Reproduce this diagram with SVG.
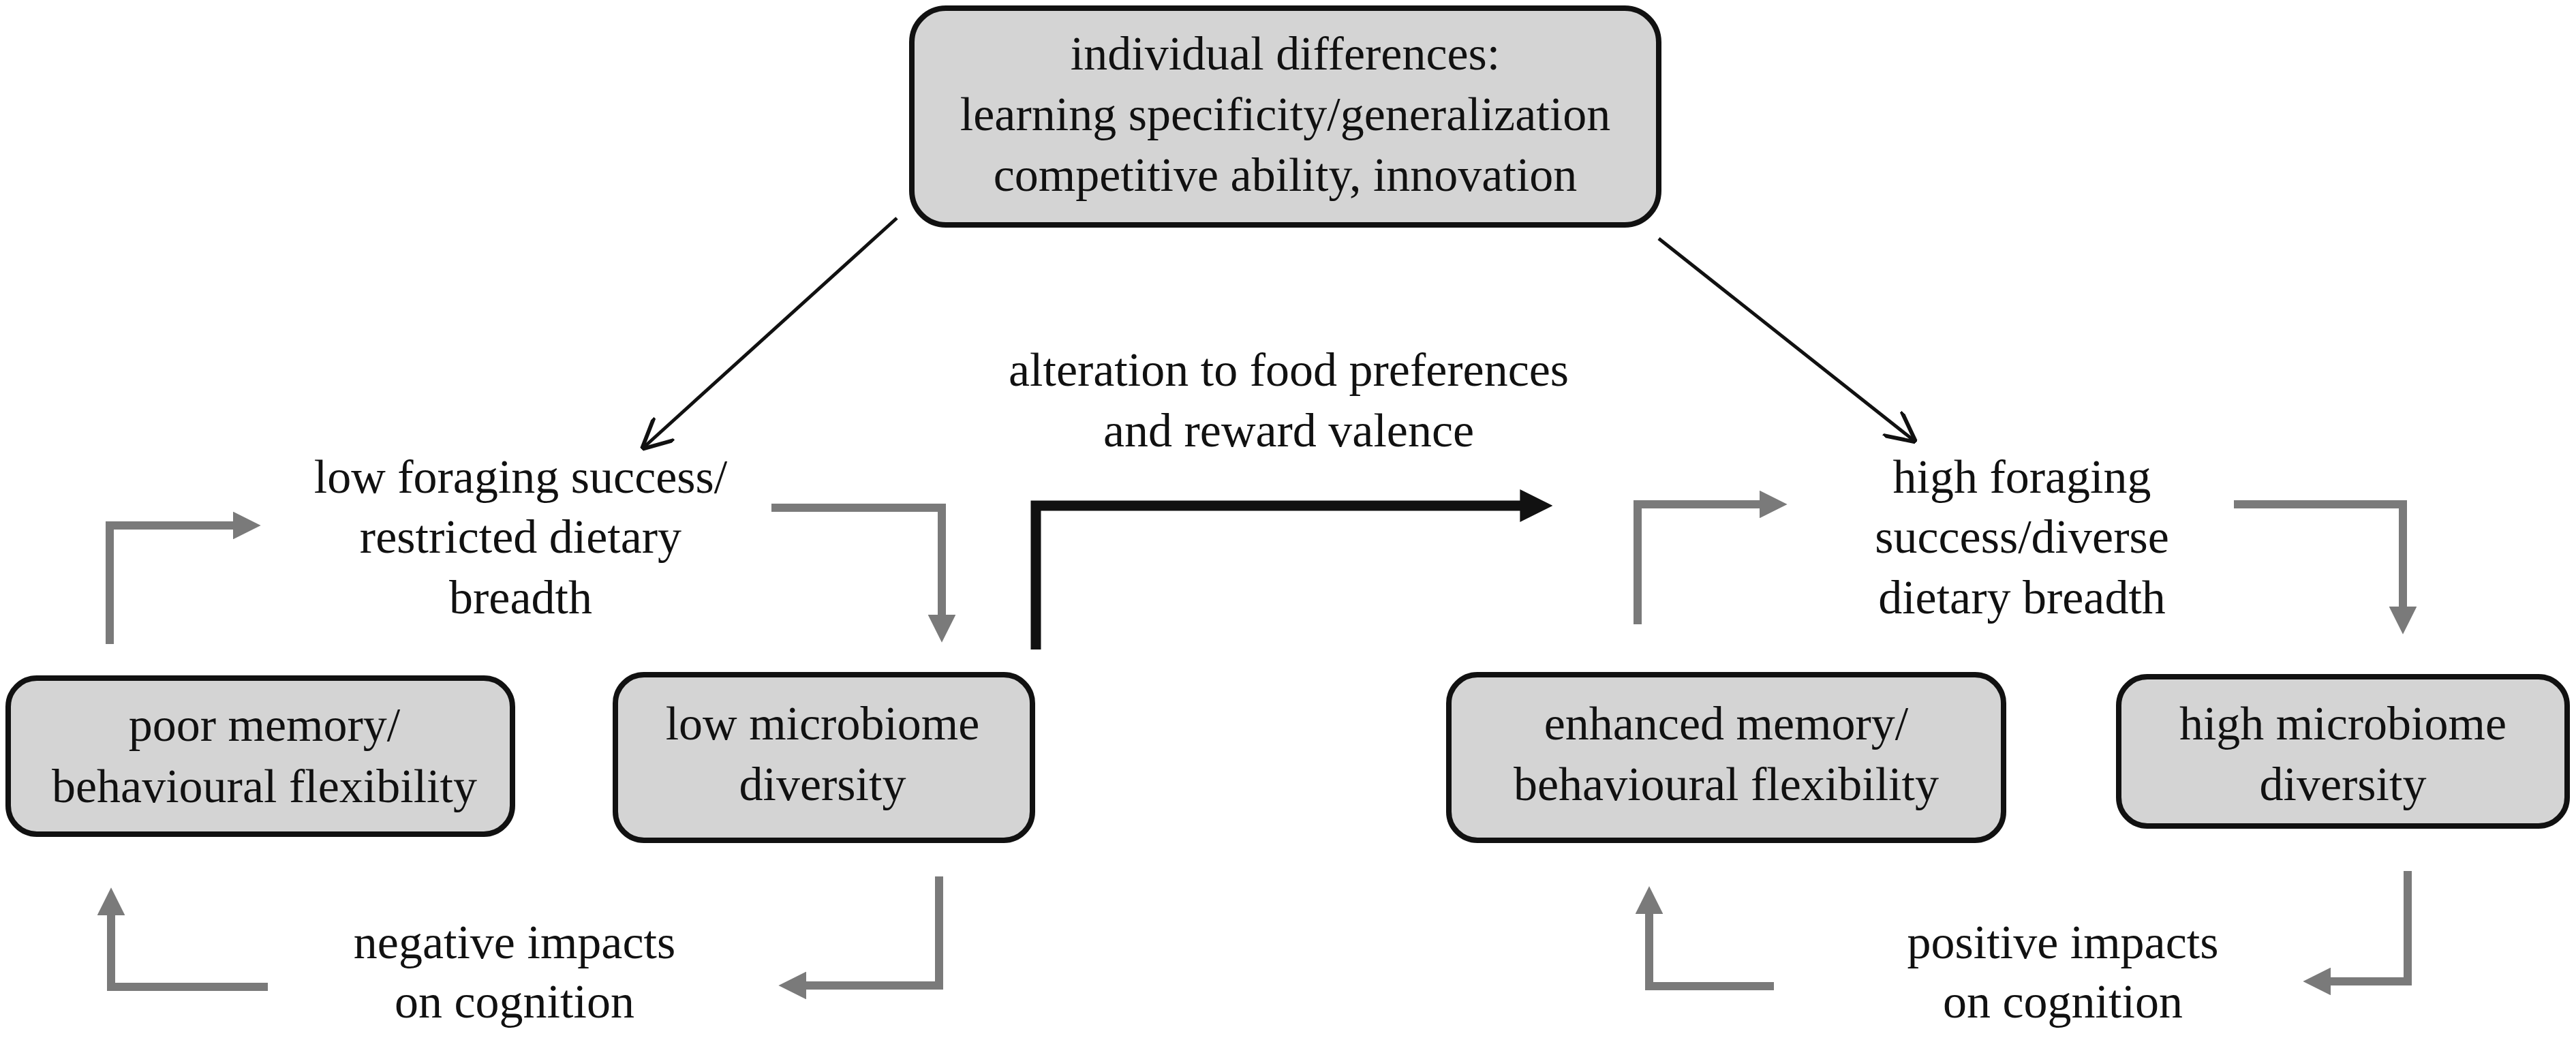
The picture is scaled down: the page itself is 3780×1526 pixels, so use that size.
<svg xmlns="http://www.w3.org/2000/svg" width="3780" height="1526" viewBox="0 0 3780 1526">
<defs>
<style>
.box{fill:#d4d4d4;stroke:#111;stroke-width:8}
text{font-family:"Liberation Serif","Times New Roman",serif;font-size:70px;fill:#111;text-anchor:middle}
.g{fill:none;stroke:#7a7a7a;stroke-width:12}
.k{fill:none;stroke:#111;stroke-width:15}
.d{fill:none;stroke:#111;stroke-width:5}
</style>
<marker id="ag" viewBox="0 0 10 10" refX="2" refY="5" markerWidth="3.4" markerHeight="3.4" orient="auto" markerUnits="strokeWidth"><path d="M0,0 L10,5 L0,10 Z" fill="#7a7a7a"/></marker>
<marker id="ak" viewBox="0 0 10 10" refX="2" refY="5" markerWidth="3.2" markerHeight="3.2" orient="auto" markerUnits="strokeWidth"><path d="M0,0 L10,5 L0,10 Z" fill="#111"/></marker>
<marker id="ad" viewBox="0 0 10 10" refX="9" refY="5" markerWidth="9" markerHeight="9" orient="auto" markerUnits="strokeWidth"><path d="M0,0 L10,5 L0,10" fill="none" stroke="#111" stroke-width="1.3"/></marker>
</defs>
<g id="top"><rect class="box" x="1338" y="12" width="1096" height="318" rx="50"/>
<text x="1886" y="102">individual differences:</text>
<text x="1886" y="191">learning specificity/generalization</text>
<text x="1886" y="280">competitive ability, innovation</text></g>
<g id="lowforage"><text x="764" y="723">low foraging success/</text><text x="764" y="811">restricted dietary</text><text x="764" y="900">breadth</text></g>
<g id="highforage"><text x="2967" y="723">high foraging</text><text x="2967" y="811">success/diverse</text><text x="2967" y="900">dietary breadth</text></g>
<g id="poor"><rect class="box" x="12" y="995" width="740" height="229" rx="42"/><text x="388" y="1087">poor memory/</text><text x="388" y="1177">behavioural flexibility</text></g>
<g id="lowmicro"><rect class="box" x="903" y="990" width="612" height="243" rx="42"/><text x="1207" y="1085">low microbiome</text><text x="1207" y="1174">diversity</text></g>
<g id="enh"><rect class="box" x="2126" y="990" width="814" height="243" rx="42"/><text x="2533" y="1085">enhanced memory/</text><text x="2533" y="1174">behavioural flexibility</text></g>
<g id="highmicro"><rect class="box" x="3109" y="993" width="658" height="219" rx="42"/><text x="3438" y="1085">high microbiome</text><text x="3438" y="1174">diversity</text></g>
<g id="labels"><text x="1891" y="566">alteration to food preferences</text><text x="1891" y="655">and reward valence</text>
<text x="755" y="1406">negative impacts</text><text x="755" y="1493">on cognition</text>
<text x="3027" y="1406">positive impacts</text><text x="3027" y="1493">on cognition</text></g>
<g id="connectors">
<path class="d" d="M1316,320 L945,656" marker-end="url(#ad)"/>
<path class="d" d="M2434,350 L2808,646" marker-end="url(#ad)"/>
<path class="k" d="M1520,953 L1520,742 L2240,742" marker-end="url(#ak)"/>
<path class="g" d="M161,945 L161,771 L350,771" marker-end="url(#ag)"/>
<path class="g" d="M1132,745 L1382,745 L1382,910" marker-end="url(#ag)"/>
<path class="g" d="M393,1448 L163,1448 L163,1335" marker-end="url(#ag)"/>
<path class="g" d="M1378,1286 L1378,1446 L1175,1446" marker-end="url(#ag)"/>
<path class="g" d="M2403,916 L2403,740 L2590,740" marker-end="url(#ag)"/>
<path class="g" d="M3278,740 L3526,740 L3526,898" marker-end="url(#ag)"/>
<path class="g" d="M2603,1447 L2420,1447 L2420,1333" marker-end="url(#ag)"/>
<path class="g" d="M3533,1278 L3533,1440 L3412,1440" marker-end="url(#ag)"/>
</g>
</svg>
